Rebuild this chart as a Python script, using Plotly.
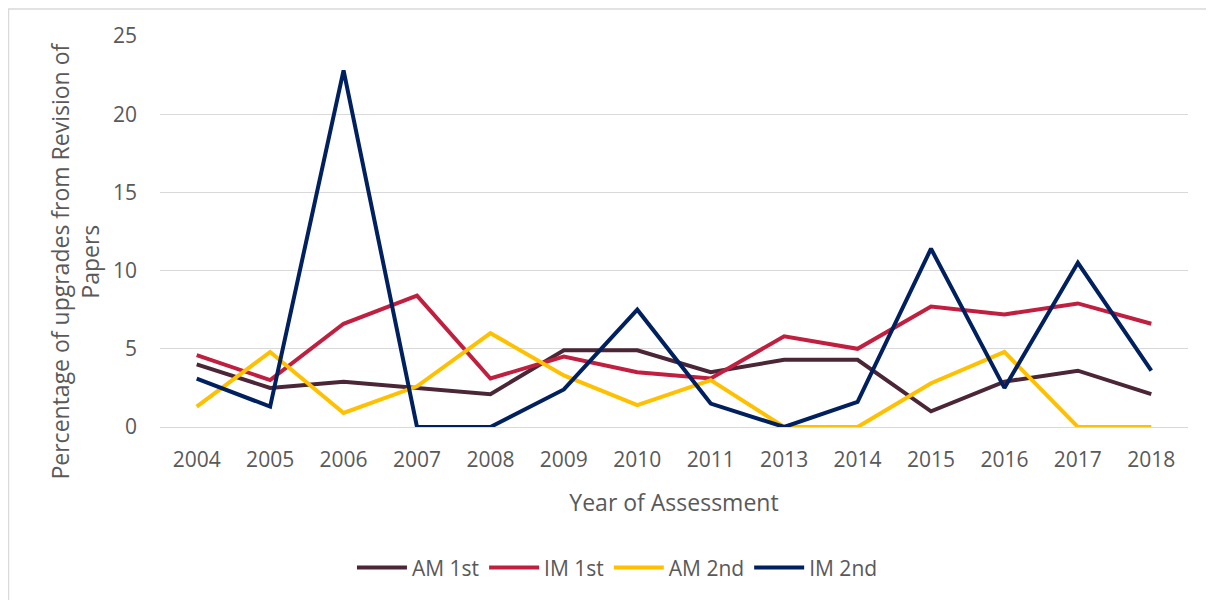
import plotly.graph_objects as go

# 数据
years = ["2004", "2005", "2006", "2007", "2008", "2009", "2010",
         "2011", "2013", "2014", "2015", "2016", "2017", "2018"]
am_1st = [4.0, 2.5, 2.9, 2.5, 2.1, 4.9, 4.9, 3.5, 4.3, 4.3, 1.0, 2.9, 3.6, 2.1]
im_1st = [4.6, 3.0, 6.6, 8.4, 3.1, 4.5, 3.5, 3.1, 5.8, 5.0, 7.7, 7.2, 7.9, 6.6]
am_2nd = [1.3, 4.8, 0.9, 2.6, 6.0, 3.3, 1.4, 3.0, 0.0, 0.0, 2.8, 4.8, 0.0, 0.0]
im_2nd = [3.1, 1.3, 22.8, 0.0, 0.0, 2.4, 7.5, 1.5, 0.0, 1.6, 11.4, 2.5, 10.5, 3.6]

series = [
    ("AM 1st", am_1st, "#4B2636"),
    ("IM 1st", im_1st, "#C01F3F"),
    ("AM 2nd", am_2nd, "#FFC000"),
    ("IM 2nd", im_2nd, "#002060"),
]

FONT = "Open Sans"
GREY = "#595959"

fig = go.Figure()
for name, vals, color in series:
    fig.add_trace(go.Scatter(
        x=years, y=vals, mode="lines", name=name,
        line=dict(color=color, width=4),
    ))

# 页面 body 有 8px 外边距，尺寸按此扣除
fig.update_layout(
    width=1198, height=592,
    paper_bgcolor="white", plot_bgcolor="white",
    margin=dict(l=152, r=18, t=28, b=167),
    font=dict(family=FONT, size=18, color=GREY),
    legend=dict(orientation="h", x=0.445, xanchor="center",
                y=-0.36, yanchor="middle", itemwidth=50,
                font=dict(size=21, color=GREY)),
    showlegend=True,
)

fig.update_xaxes(
    type="category", range=[-0.5, 13.5],
    showgrid=False, showline=True, linecolor="#d9d9d9", linewidth=1,
    ticks="", ticklabelstandoff=14,
    tickfont=dict(size=21, color=GREY),
    title=dict(text="Year of Assessment", font=dict(size=23, color=GREY),
               standoff=22),
)
fig.update_yaxes(
    range=[0, 25], dtick=5, showgrid=True, gridcolor="#d9d9d9",
    gridwidth=1, zeroline=False, showline=False,
    ticks="", ticklabelstandoff=22,
    tickfont=dict(size=21, color=GREY),
)

# Y 轴标题（两行）
fig.add_annotation(
    text="Percentage of upgrades from Revision of<br>Papers",
    xref="paper", yref="paper", x=-0.0827, y=0.4257,
    xanchor="center", yanchor="middle",
    textangle=-90, showarrow=False,
    font=dict(size=23, color=GREY),
)

# 图表外框
fig.add_shape(type="rect", xref="paper", yref="paper",
              x0=-0.1474, x1=1.2, y0=-0.6, y1=1.0693,
              line=dict(color="#d9d9d9", width=1.5), layer="below")

fig.write_html("out.html")
